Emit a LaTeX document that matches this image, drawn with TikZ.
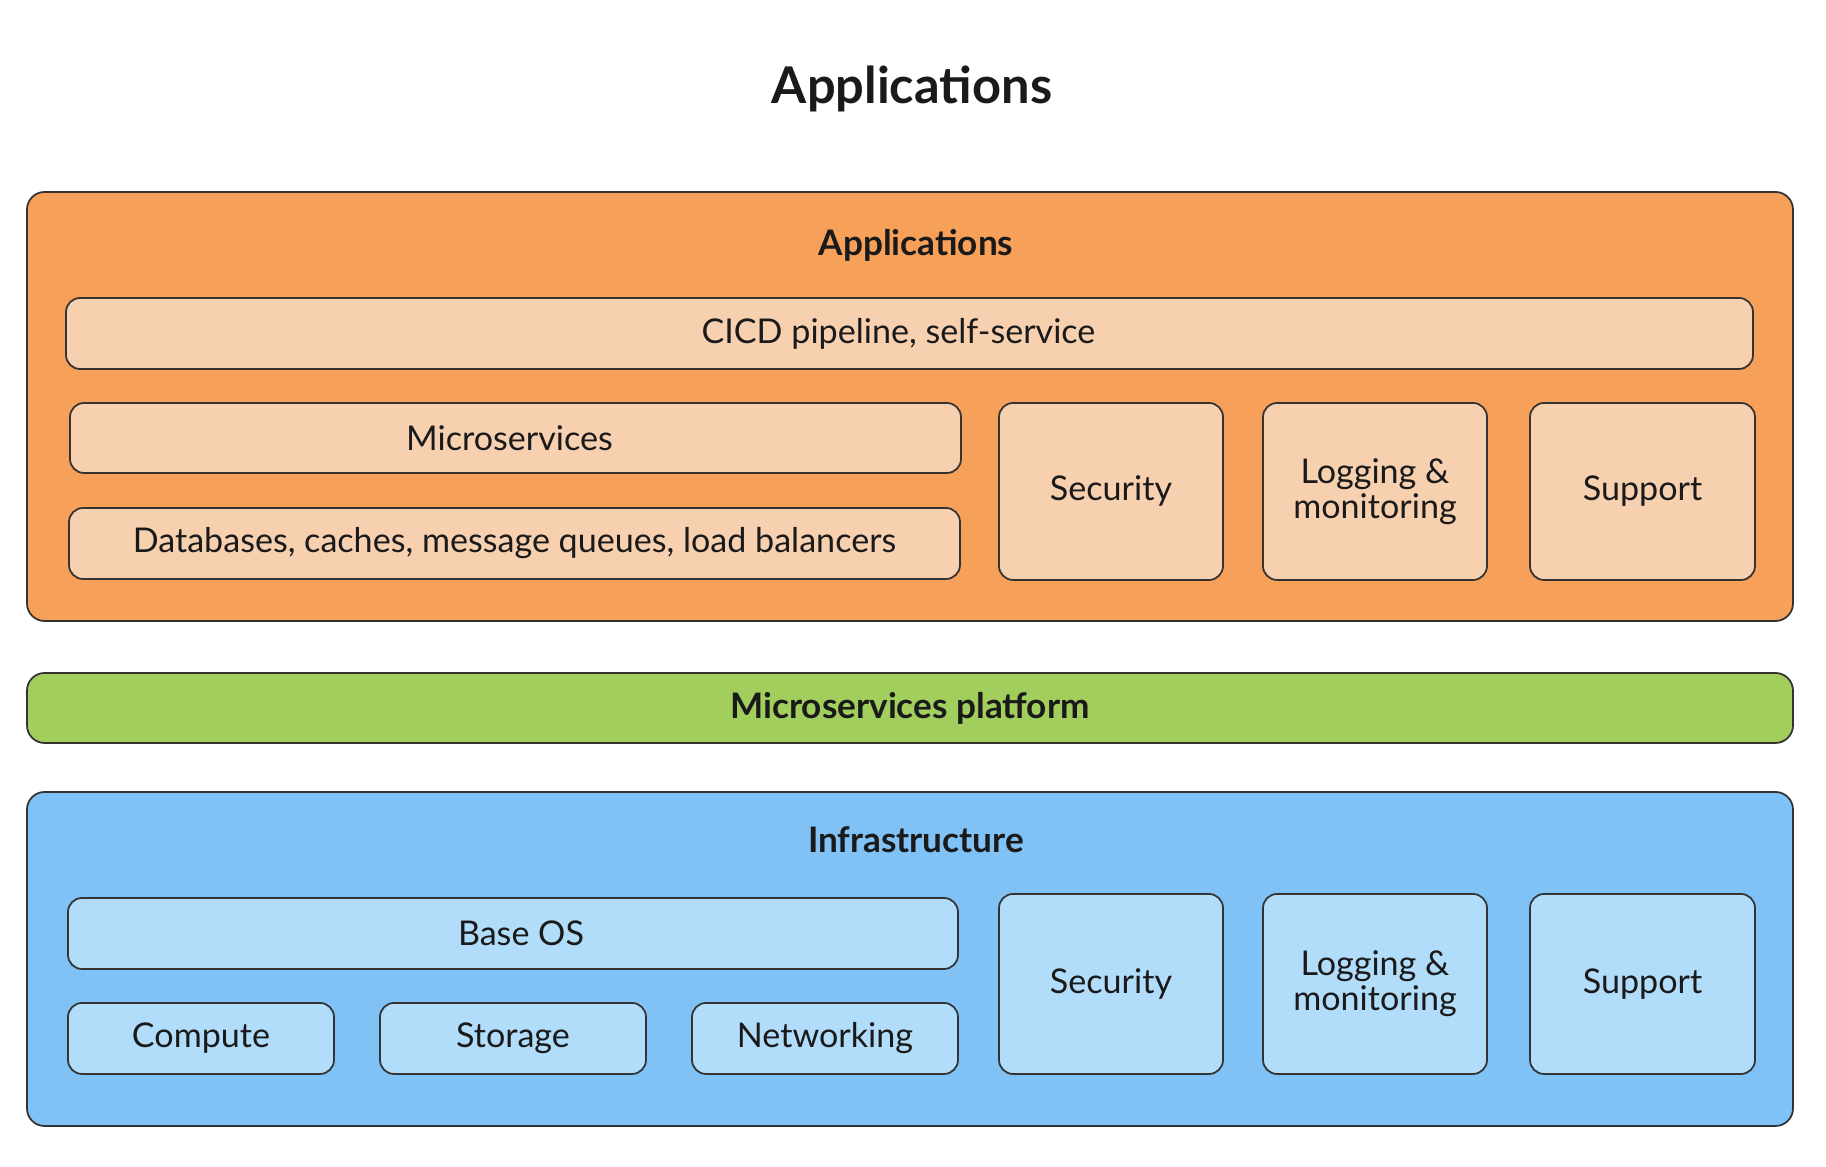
\documentclass[tikz,border=0pt]{standalone}
\usepackage{fontspec}
\setmainfont{Lato}
\usetikzlibrary{positioning}
\definecolor{Ink}{HTML}{1A1A1A}
\definecolor{Edge}{HTML}{333333}
\definecolor{AppDark}{HTML}{F6A05A}
\definecolor{AppLight}{HTML}{F7D0B0}
\definecolor{Platform}{HTML}{A2CE5E}
\definecolor{InfraDark}{HTML}{80C2F5}
\definecolor{InfraLight}{HTML}{B2DDFA}
\tikzset{
    layer/.style={rectangle, rounded corners=5pt, draw=Edge, line width=0.5pt, inner sep=0pt},
    part/.style={rectangle, rounded corners=4pt, draw=Edge, line width=0.5pt, text=Ink, align=center,
        inner sep=0pt, font=\fontsize{9.7pt}{10pt}\selectfont},
    heading/.style={text=Ink, font=\bfseries\fontsize{10pt}{12pt}\selectfont},
}

\begin{document}
\begin{tikzpicture}
    \useasboundingbox (0,0) rectangle (18.26,11.67);

    % Titolo
    \node[text=Ink, font=\bfseries\fontsize{14.4pt}{17pt}\selectfont] (title) at (9.12,10.78) {Applications};

    % Livello applicazioni
    \node[layer, fill=AppDark, minimum width=17.66cm, minimum height=4.29cm] (apps) at (9.10,7.605) {};
    \node[heading] (appsname) at (9.16,9.22) {Applications};
    \node[part, fill=AppLight, minimum width=16.87cm, minimum height=0.71cm] (cicd) at (9.095,8.335) {\hspace*{-0.22cm}CICD pipeline, self-service};
    \node[part, fill=AppLight, minimum width=8.91cm, minimum height=0.70cm] (micro) at (5.155,7.29) {\hspace*{-0.12cm}Microservices};
    \node[part, fill=AppLight, minimum width=8.91cm, minimum height=0.71cm] (data) at (5.145,6.235) {Databases, caches, message queues, load balancers};
    \node[part, fill=AppLight, minimum width=2.24cm, minimum height=1.77cm] (appsec) at (11.11,6.755) {Security};
    \node[part, fill=AppLight, minimum width=2.24cm, minimum height=1.77cm] (applog) at (13.75,6.755) {Logging \&\\monitoring};
    \node[part, fill=AppLight, minimum width=2.25cm, minimum height=1.77cm] (appsup) at (16.425,6.755) {Support};

    % Piattaforma
    \node[layer, fill=Platform, minimum width=17.66cm, minimum height=0.70cm, heading] (platform) at (9.10,4.59) {Microservices platform};

    % Livello infrastruttura
    \node[layer, fill=InfraDark, minimum width=17.66cm, minimum height=3.34cm] (infra) at (9.10,2.08) {};
    \node[heading] (infraname) at (9.16,3.27) {Infrastructure};
    \node[part, fill=InfraLight, minimum width=8.90cm, minimum height=0.71cm] (baseos) at (5.13,2.335) {\hspace*{0.16cm}Base OS};
    \node[part, fill=InfraLight, minimum width=2.66cm, minimum height=0.71cm] (compute) at (2.01,1.285) {Compute};
    \node[part, fill=InfraLight, minimum width=2.66cm, minimum height=0.71cm] (storage) at (5.13,1.285) {Storage};
    \node[part, fill=InfraLight, minimum width=2.66cm, minimum height=0.71cm] (network) at (8.25,1.285) {Networking};
    \node[part, fill=InfraLight, minimum width=2.24cm, minimum height=1.80cm] (infrasec) at (11.11,1.83) {Security};
    \node[part, fill=InfraLight, minimum width=2.24cm, minimum height=1.80cm] (infralog) at (13.75,1.83) {Logging \&\\monitoring};
    \node[part, fill=InfraLight, minimum width=2.25cm, minimum height=1.80cm] (infrasup) at (16.425,1.83) {Support};
\end{tikzpicture}
\end{document}
